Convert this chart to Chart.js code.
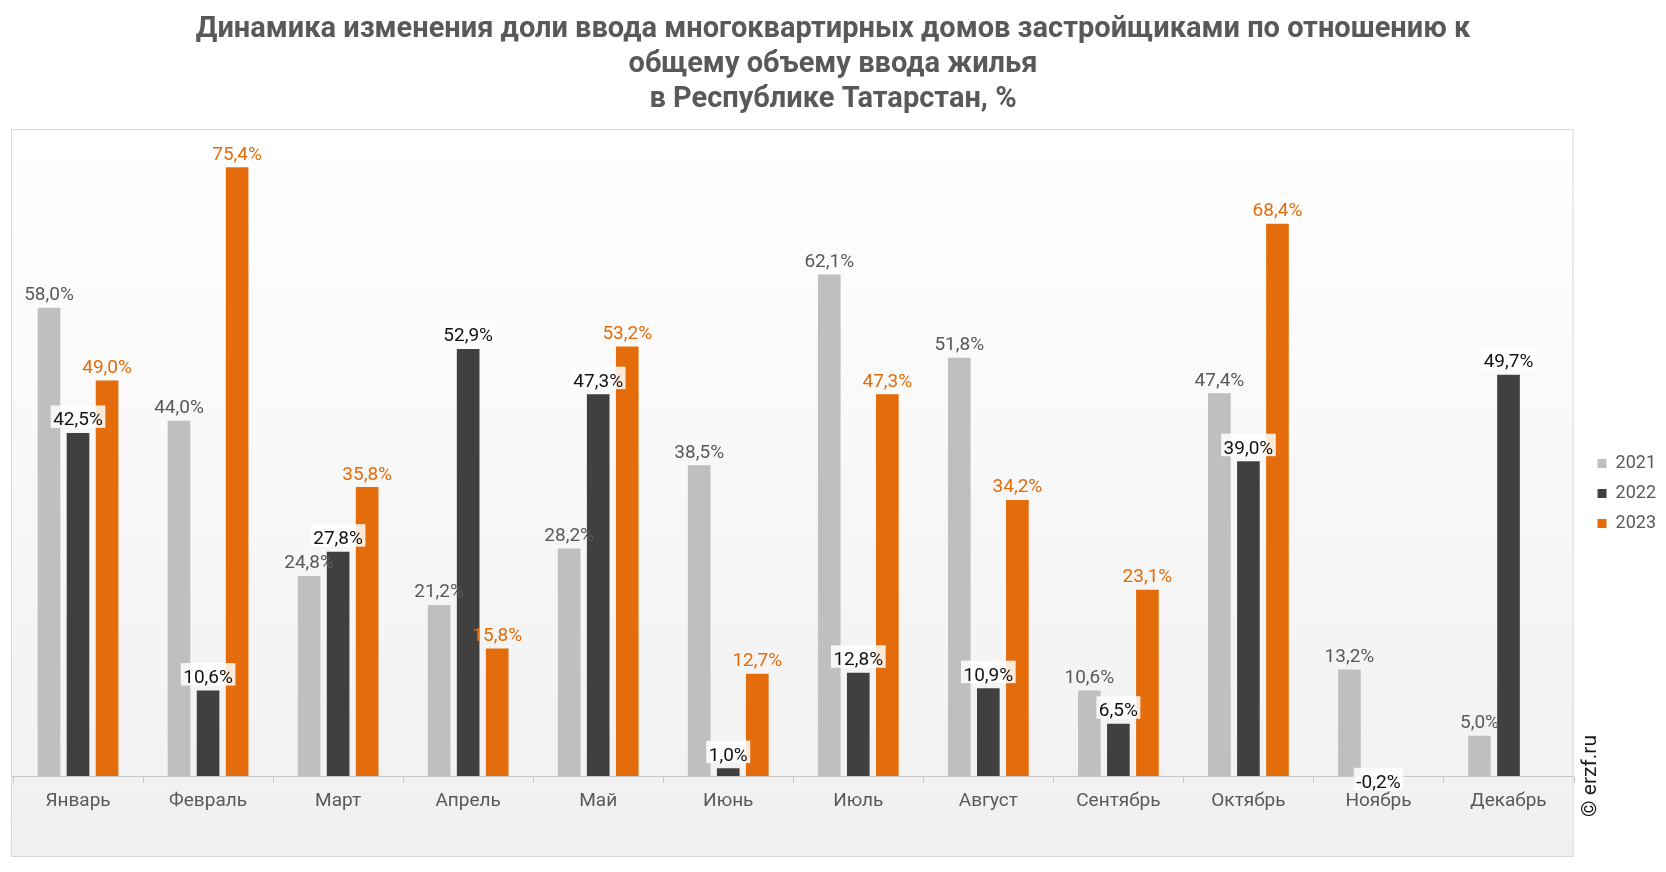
<!DOCTYPE html>
<html><head><meta charset="utf-8">
<script src="https://cdn.jsdelivr.net/npm/chart.js@4.4.1/dist/chart.umd.min.js"></script>
<style>html,body{margin:0;padding:0;background:#fff;}</style>
</head><body>
<canvas id="c" width="1666" height="872"></canvas>
<script>
const titleLines = ['Динамика изменения доли ввода многоквартирных домов застройщиками по отношению к', 'общему объему ввода жилья', 'в Республике Татарстан, %'];
const categories = ['Январь','Февраль','Март','Апрель','Май','Июнь','Июль','Август','Сентябрь','Октябрь','Ноябрь','Декабрь'];
const seriesNames = ['2021','2022','2023'];
const values2021 = [58.0, 44.0, 24.8, 21.2, 28.2, 38.5, 62.1, 51.8, 10.6, 47.4, 13.2, 5.0];
const values2022 = [42.5, 10.6, 27.8, 52.9, 47.3, 1.0, 12.8, 10.9, 6.5, 39.0, -0.2, 49.7];
const values2023 = [49.0, 75.4, 35.8, 15.8, 53.2, 12.7, 47.3, 34.2, 23.1, 68.4, null, null];
const yMin = -10, yMax = 80, yStep = 10;
const watermark = '© erzf.ru';

const barColors = ['#bfbfbf', '#404040', '#e46c0a'];
const labelColors = ['#595959', '#111111', '#e46c0a'];
const FONT = 'Roboto, "Liberation Sans", sans-serif';

const fmt = v => v.toFixed(1).replace('.', ',') + '%';

const framePlugin = {
  id: 'frame',
  beforeDraw(chart) {
    const {ctx, chartArea: a} = chart;
    ctx.save();
    const g = ctx.createLinearGradient(0, a.top, 0, a.bottom);
    g.addColorStop(0, '#ffffff');
    g.addColorStop(1, '#f0f0f0');
    ctx.fillStyle = g;
    ctx.fillRect(a.left - 1, a.top - 1, a.right - a.left + 1, a.bottom - a.top + 1);
    ctx.strokeStyle = '#d9d9d9';
    ctx.lineWidth = 1;
    ctx.strokeRect(a.left - 1.5, a.top - 0.5, a.right - a.left + 1, a.bottom - a.top);
    ctx.restore();
  }
};

const axisPlugin = {
  id: 'catAxis',
  afterDatasetsDraw(chart) {
    const {ctx} = chart;
    const xs = chart.scales.x, ys = chart.scales.y;
    const y0 = Math.round(ys.getPixelForValue(0)) + 0.5;
    ctx.save();
    ctx.strokeStyle = '#c8c8c8';
    ctx.lineWidth = 1;
    ctx.beginPath();
    ctx.moveTo(chart.chartArea.left - 1, y0);
    ctx.lineTo(chart.chartArea.right, y0);
    const n = categories.length;
    for (let i = 0; i <= n; i++) {
      let x;
      if (i === 0) x = xs.left;
      else if (i === n) x = xs.right;
      else x = (xs.getPixelForValue(i - 1) + xs.getPixelForValue(i)) / 2;
      x = Math.round(x) + 0.5;
      ctx.moveTo(x, y0);
      ctx.lineTo(x, y0 + 6);
    }
    ctx.stroke();
    ctx.fillStyle = '#595959';
    ctx.font = '19px ' + FONT;
    ctx.textAlign = 'center';
    ctx.textBaseline = 'middle';
    categories.forEach((c, i) => ctx.fillText(c, xs.getPixelForValue(i), y0 + 25));
    ctx.restore();
  }
};

const labelPlugin = {
  id: 'valueLabels',
  afterDatasetsDraw(chart) {
    const {ctx} = chart;
    ctx.save();
    ctx.font = '19px ' + FONT;
    ctx.textAlign = 'center';
    ctx.textBaseline = 'alphabetic';
    chart.data.datasets.forEach((ds, di) => {
      const meta = chart.getDatasetMeta(di);
      meta.data.forEach((el, i) => {
        const v = ds.data[i];
        if (v === null || v === undefined) return;
        const t = fmt(v);
        const w = ctx.measureText(t).width;
        let by;
        if (v >= 0) by = Math.min(el.y, el.base) - 7.5;
        else by = Math.max(el.y, el.base) + 10;
        if (di === 1) {
          ctx.fillStyle = 'rgba(255,255,255,0.85)';
          ctx.fillRect(el.x - w / 2 - 2.5, by - 20, w + 5, 22.5);
        }
        ctx.fillStyle = labelColors[di];
        ctx.fillText(t, el.x, by);
      });
    });
    ctx.restore();
  }
};

const markPlugin = {
  id: 'watermark',
  afterDraw(chart) {
    const {ctx} = chart;
    ctx.save();
    ctx.translate(1591, 776);
    ctx.rotate(-Math.PI / 2);
    ctx.font = '21px ' + FONT;
    ctx.fillStyle = '#1a1a1a';
    ctx.textAlign = 'center';
    ctx.textBaseline = 'middle';
    ctx.fillText(watermark, 0, 0);
    ctx.restore();
  }
};

new Chart(document.getElementById('c'), {
  type: 'bar',
  data: {
    labels: categories,
    datasets: [
      {label: seriesNames[0], data: values2021, backgroundColor: barColors[0]},
      {label: seriesNames[1], data: values2022, backgroundColor: barColors[1]},
      {label: seriesNames[2], data: values2023, backgroundColor: barColors[2]}
    ]
  },
  options: {
    responsive: false,
    animation: false,
    devicePixelRatio: 1,
    categoryPercentage: 0.67,
    barPercentage: 0.78,
    layout: {padding: {top: 0, left: 0, right: 0, bottom: 15}},
    scales: {
      x: {display: false},
      y: {
        position: 'left',
        min: yMin, max: yMax,
        ticks: {display: false, stepSize: yStep},
        grid: {display: false, drawTicks: false},
        border: {display: false},
        afterFit(s) { s.width = 13; }
      },
      yR: {
        position: 'right',
        type: 'linear',
        display: true,
        ticks: {display: false},
        grid: {display: false, drawTicks: false},
        border: {display: false},
        afterFit(s) { s.width = 12; }
      }
    },
    plugins: {
      title: {
        display: true,
        text: titleLines,
        color: '#595959',
        font: {family: FONT, size: 29, weight: 'bold', lineHeight: 35 / 29},
        padding: {top: 12, bottom: 13}
      },
      legend: {
        display: true,
        position: 'right',
        fullSize: false,
        labels: {
          boxWidth: 9, boxHeight: 9,
          padding: 12,
          color: '#595959',
          font: {family: FONT, size: 18}
        }
      },
      tooltip: {enabled: false}
    }
  },
  plugins: [framePlugin, axisPlugin, labelPlugin, markPlugin]
});
</script>
</body></html>
